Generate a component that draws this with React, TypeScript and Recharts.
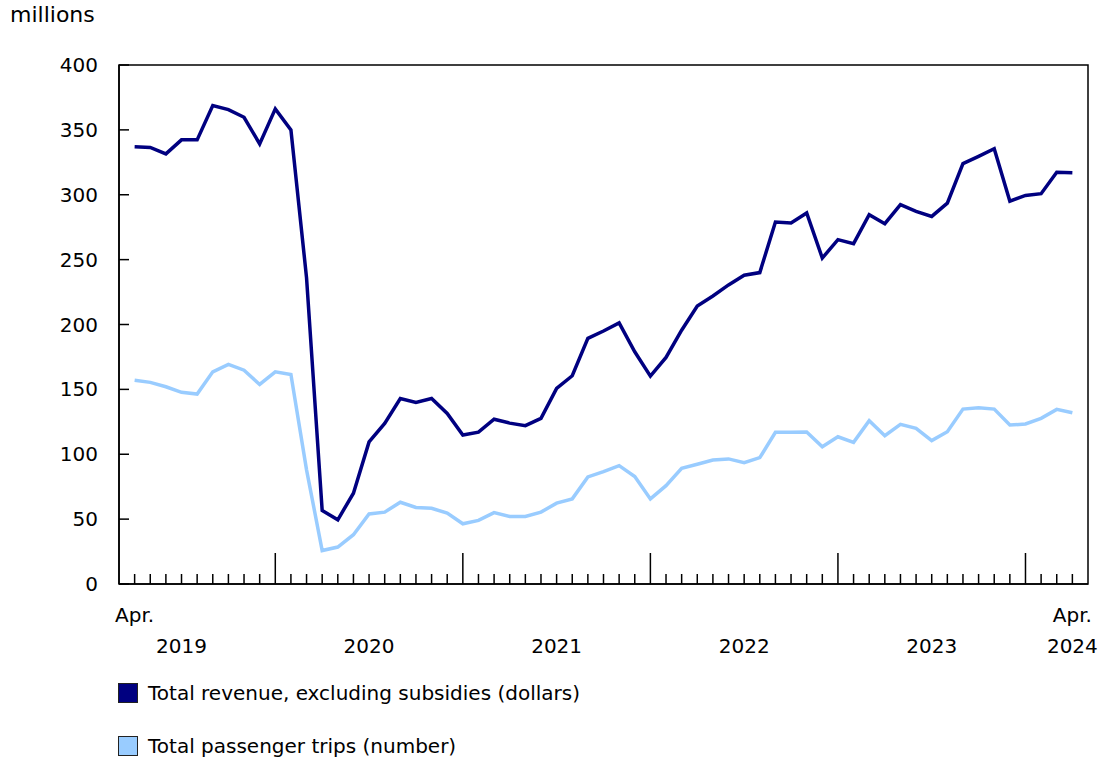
import React from 'react';
import { LineChart, Line, XAxis, YAxis, ReferenceArea } from 'recharts';

// monthly, April 2019 to April 2024 (61 points)
const months: string[] = [];
for (let k = 0; k < 61; k++) {
  const mm = ((3 + k) % 12) + 1;
  const yy = 2019 + Math.floor((3 + k) / 12);
  months.push(`${yy}-${String(mm).padStart(2, '0')}`);
}

// millions of dollars
const revenue = [
  337, 336.5, 331.5, 342.3, 342.3, 368.7, 365.6, 359.7, 339.2, 366.2, 350, 236,
  56.6, 49.5, 70, 109.5, 123.8, 143, 140, 143, 131.5, 114.8, 117, 127,
  124, 122, 127.7, 150.8, 160.5, 189.3, 195, 201.2, 179, 160.2, 174.6, 195.6,
  214.3, 222, 230.5, 238, 240, 279, 278.2, 286, 251.2, 265.4, 262.3, 284.6,
  277.7, 292.3, 287.2, 283.3, 293.5, 324, 329.6, 335.5, 295, 299.5, 300.8, 317.4,
  317,
];

// millions of trips
const trips = [
  157, 155.4, 152, 147.7, 146.4, 163.5, 169.2, 164.8, 153.8, 163.5, 161.5, 88,
  25.8, 28.5, 38, 54, 55.4, 63, 59, 58.4, 54.6, 46.4, 49, 55,
  52, 52, 55.4, 62.3, 65.6, 82.5, 86.6, 91.2, 82.8, 65.6, 75.8, 89.2,
  92.3, 95.6, 96.4, 93.5, 97.4, 116.9, 116.9, 117.2, 105.8, 113.5, 109.2, 125.9,
  114.3, 123, 120, 110.5, 117.4, 134.8, 135.9, 134.8, 122.5, 123.3, 127.7, 134.6,
  132,
];

const yTicks = [0, 50, 100, 150, 200, 250, 300, 350, 400];
const monthLabels: Record<number, string> = { 0: 'Apr.', 60: 'Apr.' };
const yearLabels: Record<number, string> = {
  3: '2019', 15: '2020', 27: '2021', 39: '2022', 51: '2023', 60: '2024',
};

const DARK = '#000080';
const LIGHT = '#99ccff';
const FONT = '"DejaVu Sans", Verdana, sans-serif';

const data = months.map((m, i) => ({ i, month: m, revenue: revenue[i], trips: trips[i] }));

const MonthTick = (props: any) => {
  const { x, y, payload } = props;
  const i = payload.value as number;
  const isJan = months[i]?.endsWith('-01');
  return (
    <g>
      <line x1={x} x2={x} y1={y} y2={y - (isJan ? 31 : 10)} stroke="#000" strokeWidth={1.5} />
      {monthLabels[i] && (
        <text x={x} y={y + 38} textAnchor="middle" fontSize={20} fill="#000" fontFamily={FONT}>
          {monthLabels[i]}
        </text>
      )}
      {yearLabels[i] && (
        <text x={x} y={y + 69} textAnchor="middle" fontSize={20} fill="#000" fontFamily={FONT}>
          {yearLabels[i]}
        </text>
      )}
    </g>
  );
};

const ValueTick = (props: any) => {
  const { x, y, payload } = props;
  return (
    <g>
      <line x1={x} x2={x + 10} y1={y} y2={y} stroke="#000" strokeWidth={1.5} />
      <text x={x - 21} y={y + 7} textAnchor="end" fontSize={20} fill="#000" fontFamily={FONT}>
        {payload.value}
      </text>
    </g>
  );
};

const LegendItem = ({ color, label, top }: { color: string; label: string; top: number }) => (
  <div style={{ position: 'absolute', left: 118, top, display: 'flex', alignItems: 'center' }}>
    <div style={{ width: 18, height: 18, background: color, border: '1px solid #222', marginRight: 10 }} />
    <span style={{ fontSize: 20, color: '#000' }}>{label}</span>
  </div>
);

export default function App() {
  return (
    <div style={{ position: 'relative', width: 1102, height: 760, background: '#fff', fontFamily: FONT }}>
      <style>{'body{margin:0}'}</style>
      <div style={{ position: 'absolute', left: 10, top: 2, fontSize: 22, color: '#000' }}>millions</div>
      <LineChart
        width={1102}
        height={660}
        data={data}
        margin={{ top: 65, right: 14, left: 0, bottom: 0 }}
        style={{ position: 'absolute', left: 0, top: 0 }}
      >
        <XAxis
          dataKey="i"
          type="number"
          domain={[-1, 61]}
          ticks={data.map((d) => d.i)}
          interval={0}
          height={76}
          tickSize={0}
          tickMargin={0}
          tickLine={false}
          axisLine={{ stroke: '#000', strokeWidth: 1.5 }}
          tick={<MonthTick />}
        />
        <YAxis
          type="number"
          domain={[0, 400]}
          ticks={yTicks}
          interval={0}
          width={119}
          tickSize={0}
          tickMargin={0}
          tickLine={false}
          axisLine={{ stroke: '#000', strokeWidth: 1.5 }}
          tick={<ValueTick />}
        />
        {/* frame around the plot area */}
        <ReferenceArea
          x1={-1}
          x2={61}
          y1={0}
          y2={400}
          fill="none"
          fillOpacity={0}
          stroke="#000"
          strokeWidth={1.5}
          ifOverflow="visible"
        />
        <Line
          dataKey="trips"
          stroke={LIGHT}
          strokeWidth={3.5}
          dot={false}
          activeDot={false}
          isAnimationActive={false}
        />
        <Line
          dataKey="revenue"
          stroke={DARK}
          strokeWidth={3.5}
          dot={false}
          activeDot={false}
          isAnimationActive={false}
        />
      </LineChart>
      <LegendItem color={DARK} label="Total revenue, excluding subsidies (dollars)" top={681} />
      <LegendItem color={LIGHT} label="Total passenger trips (number)" top={734} />
    </div>
  );
}
